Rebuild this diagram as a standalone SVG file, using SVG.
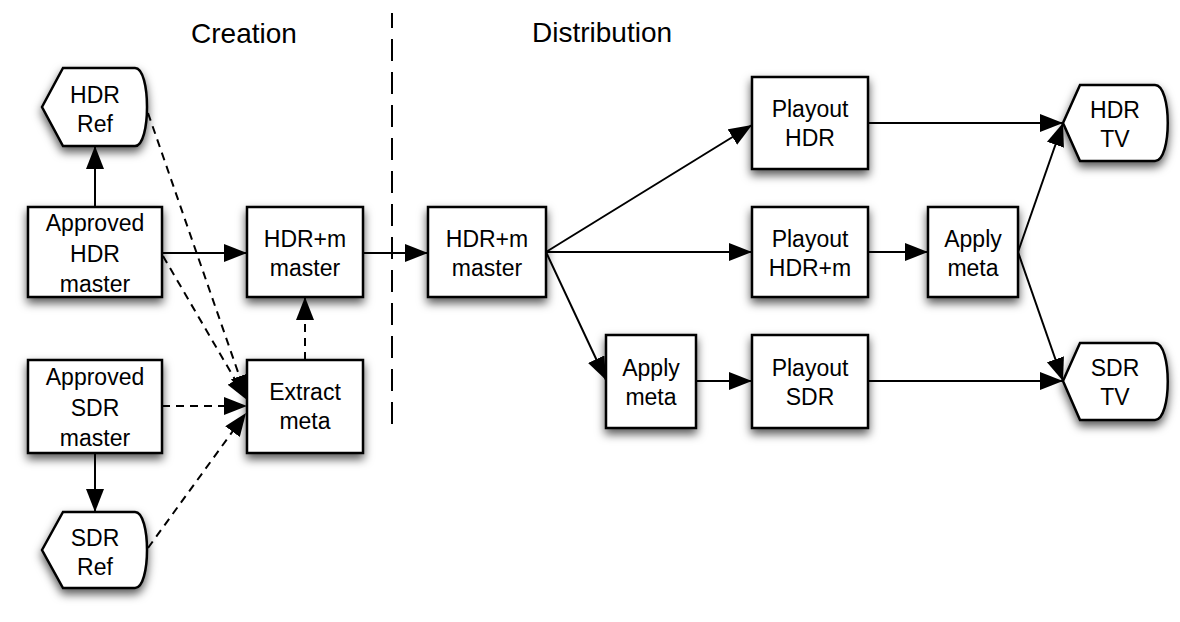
<svg xmlns="http://www.w3.org/2000/svg" width="1180" height="622" viewBox="0 0 1180 622">
<style>
.box{fill:#fff;stroke:#000;stroke-width:2.5;filter:url(#sh)}
.t{font-family:"Liberation Sans",Arial,Helvetica,sans-serif;font-size:23px;text-anchor:middle;fill:#000}
.h{font-family:"Liberation Sans",Arial,Helvetica,sans-serif;font-size:28px;text-anchor:middle;fill:#000}
.c{fill:none;stroke:#000;stroke-width:2;marker-end:url(#ah)}
.d{stroke-dasharray:8,6}
</style>
<defs>
<filter id="sh" x="-30%" y="-30%" width="160%" height="170%">
<feDropShadow dx="0" dy="5" stdDeviation="5" flood-color="#000" flood-opacity="0.65"/>
</filter>
<marker id="ah" markerUnits="userSpaceOnUse" markerWidth="26" markerHeight="20" refX="23" refY="9" orient="auto">
<path d="M0,0 L23,9 L0,18 Z" fill="#000"/>
</marker>
</defs>
<rect width="1180" height="622" fill="#fff"/>
<text class="h" x="244" y="43">Creation</text>
<text class="h" x="602" y="42">Distribution</text>
<line x1="392" y1="13" x2="392" y2="428" stroke="#000" stroke-width="2" stroke-dasharray="22,11" stroke-dashoffset="7"/>

<g id="hdr-ref">
<path class="box" d="M42,107 L63,68 L135,68 C151,68 151,146 135,146 L63,146 Z"/>
<text class="t" x="95" y="103">HDR</text><text class="t" x="95" y="132">Ref</text>
</g>
<g id="approved-hdr">
<rect class="box" x="28" y="207" width="134" height="90"/>
<text class="t" x="95" y="231">Approved</text><text class="t" x="95" y="262">HDR</text><text class="t" x="95" y="292">master</text>
</g>
<g id="approved-sdr">
<rect class="box" x="28" y="360" width="134" height="93"/>
<text class="t" x="95" y="385">Approved</text><text class="t" x="95" y="416">SDR</text><text class="t" x="95" y="446">master</text>
</g>
<g id="sdr-ref">
<path class="box" d="M42,550 L63,512 L135,512 C151,512 151,588 135,588 L63,588 Z"/>
<text class="t" x="95" y="546">SDR</text><text class="t" x="95" y="575">Ref</text>
</g>
<g id="hdrm-master-c">
<rect class="box" x="247" y="207" width="116" height="90"/>
<text class="t" x="305" y="247">HDR+m</text><text class="t" x="305" y="276">master</text>
</g>
<g id="extract-meta">
<rect class="box" x="247" y="360" width="116" height="93"/>
<text class="t" x="305" y="400">Extract</text><text class="t" x="305" y="429">meta</text>
</g>
<g id="hdrm-master-d">
<rect class="box" x="428" y="207" width="118" height="90"/>
<text class="t" x="487" y="247">HDR+m</text><text class="t" x="487" y="276">master</text>
</g>
<g id="playout-hdr">
<rect class="box" x="752" y="77" width="116" height="92"/>
<text class="t" x="810" y="117">Playout</text><text class="t" x="810" y="146">HDR</text>
</g>
<g id="playout-hdrm">
<rect class="box" x="752" y="207" width="116" height="90"/>
<text class="t" x="810" y="247">Playout</text><text class="t" x="810" y="276">HDR+m</text>
</g>
<g id="playout-sdr">
<rect class="box" x="752" y="335" width="116" height="93"/>
<text class="t" x="810" y="376">Playout</text><text class="t" x="810" y="405">SDR</text>
</g>
<g id="apply-meta-sdr">
<rect class="box" x="606" y="335" width="90" height="93"/>
<text class="t" x="651" y="376">Apply</text><text class="t" x="651" y="405">meta</text>
</g>
<g id="apply-meta-hdr">
<rect class="box" x="928" y="207" width="90" height="90"/>
<text class="t" x="973" y="247">Apply</text><text class="t" x="973" y="276">meta</text>
</g>
<g id="hdr-tv">
<path class="box" d="M1063,123 L1080,85 L1155,85 C1172,85 1172,161 1155,161 L1080,161 Z"/>
<text class="t" x="1115" y="118">HDR</text><text class="t" x="1115" y="147">TV</text>
</g>
<g id="sdr-tv">
<path class="box" d="M1063,381 L1080,343 L1155,343 C1172,343 1172,420 1155,420 L1080,420 Z"/>
<text class="t" x="1115" y="376">SDR</text><text class="t" x="1115" y="405">TV</text>
</g>

<g id="connectors">
<line class="c" x1="95" y1="207" x2="95" y2="146"/>
<line class="c" x1="95" y1="453" x2="95" y2="512"/>
<line class="c" x1="162" y1="253" x2="247" y2="253"/>
<line class="c d" x1="148" y1="113" x2="247" y2="398"/>
<line class="c d" x1="163" y1="256" x2="247" y2="400"/>
<line class="c d" x1="162" y1="406" x2="247" y2="406"/>
<line class="c d" x1="148" y1="548" x2="246" y2="413"/>
<line class="c d" x1="305" y1="360" x2="305" y2="297"/>
<line class="c" x1="363" y1="253" x2="428" y2="253"/>
<line class="c" x1="546" y1="252" x2="752" y2="125"/>
<line class="c" x1="546" y1="252" x2="752" y2="252"/>
<line class="c" x1="546" y1="252" x2="606" y2="380"/>
<line class="c" x1="696" y1="381" x2="752" y2="381"/>
<line class="c" x1="868" y1="123" x2="1063" y2="123"/>
<line class="c" x1="868" y1="252" x2="928" y2="252"/>
<line class="c" x1="1018" y1="252" x2="1063" y2="123"/>
<line class="c" x1="1018" y1="252" x2="1063" y2="381"/>
<line class="c" x1="868" y1="381" x2="1063" y2="381"/>
</g>
</svg>
